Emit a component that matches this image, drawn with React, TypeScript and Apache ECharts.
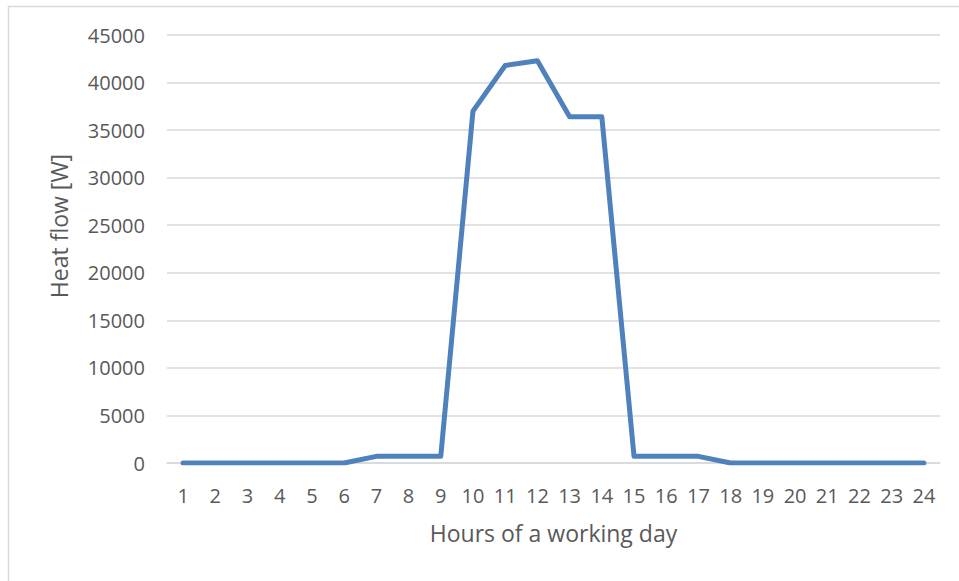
import React, { useEffect, useRef } from "react";
import * as echarts from "echarts";

const hours = ["1","2","3","4","5","6","7","8","9","10","11","12","13","14","15","16","17","18","19","20","21","22","23","24"];
const heatFlow = [0,0,0,0,0,0,700,700,700,37000,41800,42300,36400,36400,700,700,700,0,0,0,0,0,0,0];
const yTicks = { min: 0, max: 45000, interval: 5000 };

export default function App() {
  const ref = useRef<HTMLDivElement>(null);
  useEffect(() => {
    document.body.style.margin = "0";
    const chart = echarts.init(ref.current!, undefined, { renderer: "svg" });
    const font = "'Open Sans', 'Noto Sans', sans-serif";
    chart.setOption({
      animation: false,
      backgroundColor: "#ffffff",
      graphic: [
        {
          type: "rect",
          shape: { x: 8.5, y: 6.5, width: 1000, height: 1000 },
          style: { fill: "none", stroke: "#d9d9d9", lineWidth: 1.5 },
          silent: true,
        },
      ],
      grid: { left: 167, right: 19, top: 35, bottom: 118 },
      xAxis: {
        type: "category",
        data: hours,
        boundaryGap: true,
        name: "Hours of a working day",
        nameLocation: "middle",
        nameGap: 58,
        nameTextStyle: { color: "#595959", fontSize: 23, fontFamily: font },
        axisLine: { show: true, lineStyle: { color: "#d9d9d9", width: 1.5 } },
        axisTick: { show: false },
        axisLabel: { color: "#595959", fontSize: 20, fontFamily: font, margin: 22, interval: 0 },
      },
      yAxis: {
        type: "value",
        min: yTicks.min,
        max: yTicks.max,
        interval: yTicks.interval,
        name: "Heat flow [W]",
        nameLocation: "middle",
        nameGap: 97,
        nameRotate: 90,
        nameTextStyle: { color: "#595959", fontSize: 23, fontFamily: font, padding: [0, 0, 0, 46] },
        axisLine: { show: false },
        axisTick: { show: false },
        axisLabel: {
          color: "#595959",
          fontSize: 20,
          fontFamily: font,
          margin: 22,
          formatter: (v: number) => String(v),
        },
        splitLine: { show: true, lineStyle: { color: "#d9d9d9", width: 1.5 } },
      },
      series: [
        {
          type: "line",
          data: heatFlow,
          symbol: "none",
          lineStyle: { color: "#4f81bd", width: 5, cap: "round", join: "round" },
        },
      ],
    });
    return () => chart.dispose();
  }, []);
  return <div ref={ref} style={{ width: 959, height: 581 }} />;
}
